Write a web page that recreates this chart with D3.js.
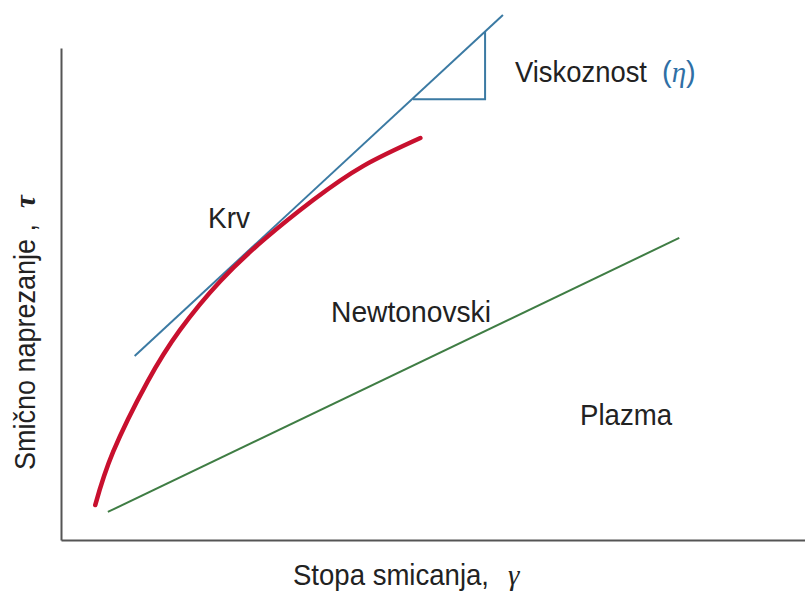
<!DOCTYPE html>
<html>
<head>
<meta charset="utf-8">
<script src="https://cdn.jsdelivr.net/npm/d3@7"></script>
<style>
  body { margin: 0; background: #fff; }
  svg text { font-family: "Liberation Sans", Arial, sans-serif; fill: #222; }
  .greek { font-family: "Liberation Serif", "DejaVu Serif", serif; font-style: italic; }
</style>
</head>
<body>
<div id="chart"></div>
<script>
// values on a 0-100 scale for both axes (no ticks in the original)
const bloodX = [4.6, 7.0, 11.6, 16.0, 21.4, 27.4, 33.9, 40.6, 48.3];
const bloodY = [7.1, 17.9, 32.1, 42.7, 52.6, 61.2, 69.1, 76.0, 81.7];

const plasmaX = [6.3, 83.1];
const plasmaY = [5.7, 61.4];

// tangent line showing viscosity as slope
const tangentX = [9.9, 59.4];
const tangentY = [37.4, 106.7];

// little slope triangle on the tangent
const triX = [47.3, 57.0, 57.0];
const triY = [89.6, 89.6, 103.3];

const xTitle = "Stopa smicanja,";
const yTitle = "Smično naprezanje ,";

let width = 805, height = 595;

let svg = d3.select("#chart").append("svg")
    .attr("width", width)
    .attr("height", height);

let x = d3.scaleLinear().domain([0, 100]).range([61, 805]);
let y = d3.scaleLinear().domain([0, 100]).range([540, 48]);

// axes without ticks, just the lines
let xAxis = d3.axisBottom(x).tickValues([]).tickSizeOuter(0);
let yAxis = d3.axisLeft(y).tickValues([]).tickSizeOuter(0);

svg.append("g")
    .attr("transform", "translate(0," + y(0) + ")")
    .call(xAxis)
    .select(".domain").attr("stroke", "#555").attr("stroke-width", 2);

svg.append("g")
    .attr("transform", "translate(" + x(0) + ",0)")
    .call(yAxis)
    .select(".domain").attr("stroke", "#555").attr("stroke-width", 2);

let line = d3.line()
    .x(d => x(d[0]))
    .y(d => y(d[1]));

// plasma (newtonian)
svg.append("path")
    .datum(d3.zip(plasmaX, plasmaY))
    .attr("fill", "none")
    .attr("stroke", "#3f7d44")
    .attr("stroke-width", 2)
    .attr("d", line);

// tangent
svg.append("path")
    .datum(d3.zip(tangentX, tangentY))
    .attr("fill", "none")
    .attr("stroke", "#3b7aa3")
    .attr("stroke-width", 2)
    .attr("d", line);

// triangle (horizontal + vertical legs)
svg.append("path")
    .datum(d3.zip(triX, triY))
    .attr("fill", "none")
    .attr("stroke", "#3b7aa3")
    .attr("stroke-width", 2)
    .attr("d", line);

// blood curve
let curveLine = d3.line()
    .x(d => x(d[0]))
    .y(d => y(d[1]))
    .curve(d3.curveNatural);

svg.append("path")
    .datum(d3.zip(bloodX, bloodY))
    .attr("fill", "none")
    .attr("stroke", "#c8102e")
    .attr("stroke-width", 4.5)
    .attr("stroke-linecap", "round")
    .attr("d", curveLine);

// labels
function label(txt, px, py, len) {
    return svg.append("text")
        .attr("x", px)
        .attr("y", py)
        .attr("font-size", 29)
        .attr("textLength", len)
        .attr("lengthAdjust", "spacingAndGlyphs")
        .text(txt);
}

label("Viskoznost", 515, 82, 132);
svg.append("text")
    .attr("x", 662).attr("y", 82)
    .attr("font-size", 29)
    .style("fill", "#2f6fa5")
    .html('(<tspan class="greek">η</tspan>)');

label("Krv", 208, 228, 42);
label("Newtonovski", 331, 322, 160);
label("Plazma", 580, 425, 92);

label(xTitle, 293, 585, 196);
svg.append("text")
    .attr("class", "greek")
    .attr("x", 508).attr("y", 585)
    .attr("font-size", 29)
    .text("γ");

let yLab = svg.append("g").attr("transform", "translate(35,470) rotate(-90)");
yLab.append("text")
    .attr("font-size", 29)
    .attr("textLength", 246)
    .attr("lengthAdjust", "spacingAndGlyphs")
    .text(yTitle);
yLab.append("text")
    .attr("class", "greek")
    .attr("x", 262)
    .attr("font-size", 29)
    .attr("font-weight", "bold")
    .text("τ");
</script>
</body>
</html>
